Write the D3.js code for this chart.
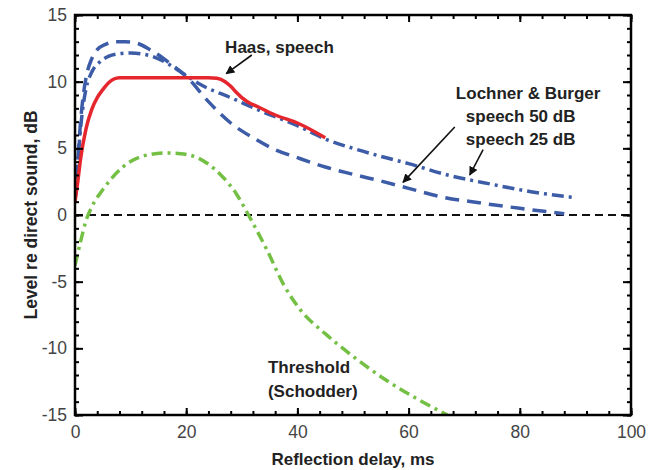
<!DOCTYPE html>
<html><head><meta charset="utf-8">
<script src="https://cdn.jsdelivr.net/npm/d3@7"></script>
<style>
html,body{margin:0;padding:0;background:#fff;overflow:hidden}
svg{display:block}
</style></head>
<body>
<svg id="chart" width="654" height="470"></svg>
<script>
// ---- data ----
const xTicks = [0, 20, 40, 60, 80, 100];
const yTicks = [-15, -10, -5, 0, 5, 10, 15];

// Haas, speech (red solid)
const haasX = [0, 0.5, 1, 2, 3, 4, 5, 6, 7, 8, 24, 25.5, 27, 28, 29, 30, 31, 33, 36, 40, 45];
const haasY = [1.0, 2.5, 4.2, 6.5, 7.9, 8.8, 9.4, 9.9, 10.2, 10.3, 10.3, 10.25, 10.0, 9.65, 9.2, 8.8, 8.5, 8.1, 7.5, 6.9, 5.8];

// Lochner & Burger, speech 50 dB (blue dashed)
const lb50X = [0, 0.5, 1, 1.5, 2.2, 3, 4, 5.5, 7, 9, 11, 13.5, 17, 20, 24, 28, 32, 36, 40, 45, 50, 55, 60, 66, 73, 80, 88];
const lb50Y = [1.0, 4.0, 7.0, 9.0, 10.7, 11.7, 12.4, 12.8, 13.0, 13.0, 12.9, 12.4, 11.4, 10.4, 8.5, 6.9, 5.8, 4.9, 4.3, 3.6, 3.05, 2.55, 2.0, 1.35, 0.9, 0.5, 0.1];

// Lochner & Burger, speech 25 dB (blue dash-dot)
const lb25X = [0, 0.5, 1, 1.5, 2, 3, 4.5, 6, 8, 10, 13, 16.5, 19.5, 22.5, 28, 34, 40, 45, 50, 55, 60, 67, 75, 82, 90];
const lb25Y = [1.0, 4.0, 6.5, 8.3, 9.5, 10.7, 11.5, 11.9, 12.1, 12.15, 12.0, 11.4, 10.6, 9.8, 8.8, 7.7, 6.7, 5.7, 5.0, 4.4, 3.85, 3.0, 2.3, 1.75, 1.3];

// Threshold (Schodder) (green dash-dot)
const thrX = [0, 1, 2, 3, 5, 8.6, 13, 16.5, 19, 22, 26, 29, 31.2, 34.5, 37.5, 40.5, 45, 50, 56, 62, 67];
const thrY = [-3.8, -2.0, -0.4, 0.6, 1.9, 3.6, 4.5, 4.65, 4.6, 4.3, 3.1, 1.6, 0, -2.6, -5.2, -7.1, -8.9, -10.6, -12.4, -13.9, -15];

// ---- layout ----
const svg = d3.select("#chart");
const L = 75, R = 631, T = 15, B = 415;
const x = d3.scaleLinear().domain([0, 100]).range([L, R]);
const y = d3.scaleLinear().domain([-15, 15]).range([B, T]);

const font = "'Liberation Sans', Arial, Helvetica, sans-serif";
const fmt = d => String(d);

const zip = (xs, ys) => xs.map((v, i) => [v, ys[i]]);
const line = d3.line().x(d => x(d[0])).y(d => y(d[1])).curve(d3.curveMonotoneX);

const plot = svg.append("g");
plot.append("clipPath").attr("id", "clip").append("rect")
  .attr("x", L).attr("y", T).attr("width", R - L).attr("height", B - T);
const g = plot.append("g").attr("clip-path", "url(#clip)");

// zero reference line
g.append("path").datum([[0, 0], [100, 0]])
  .attr("d", d3.line().x(d => x(d[0])).y(d => y(d[1])))
  .attr("fill", "none").attr("stroke", "#111").attr("stroke-width", 2)
  .attr("stroke-dasharray", "8,5");

// threshold
g.append("path").datum(zip(thrX, thrY)).attr("d", line)
  .attr("fill", "none").attr("stroke", "#74c044").attr("stroke-width", 3.5)
  .attr("stroke-dasharray", "11,5,3,5");

// LB 50 dB dashed
g.append("path").datum(zip(lb50X, lb50Y)).attr("d", line)
  .attr("fill", "none").attr("stroke", "#3d5ca8").attr("stroke-width", 3.5)
  .attr("stroke-dasharray", "14,8");

// LB 25 dB dash-dot
g.append("path").datum(zip(lb25X, lb25Y)).attr("d", line)
  .attr("fill", "none").attr("stroke", "#3d5ca8").attr("stroke-width", 3.5)
  .attr("stroke-dasharray", "12,5,3,5");

// Haas red
g.append("path").datum(zip(haasX, haasY)).attr("d", line)
  .attr("fill", "none").attr("stroke", "#e5262d").attr("stroke-width", 3.5);

// ---- axes with inward ticks on all sides ----
const xMinor = d3.range(0, 101, 4);
const yMinor = d3.range(-15, 16, 1);
function styleAxis(sel) {
  sel.select(".domain").remove();
  sel.selectAll(".tick line").attr("stroke", "#000").attr("stroke-width", 2);
}
svg.append("g").attr("transform", `translate(0,${B})`)
  .call(d3.axisBottom(x).tickValues(xMinor).tickSize(-4).tickFormat("")).call(styleAxis);
svg.append("g").attr("transform", `translate(0,${B})`)
  .call(d3.axisBottom(x).tickValues(xTicks).tickSize(-7).tickPadding(11).tickFormat(fmt))
  .call(styleAxis)
  .call(a => a.selectAll("text").attr("font-family", font).attr("font-size", 17.5).attr("fill", "#444"));
svg.append("g").attr("transform", `translate(0,${T})`)
  .call(d3.axisTop(x).tickValues(xMinor).tickSize(-4).tickFormat("")).call(styleAxis);
svg.append("g").attr("transform", `translate(0,${T})`)
  .call(d3.axisTop(x).tickValues(xTicks).tickSize(-7).tickFormat("")).call(styleAxis);

svg.append("g").attr("transform", `translate(${L},0)`)
  .call(d3.axisLeft(y).tickValues(yMinor).tickSize(-4).tickFormat("")).call(styleAxis);
svg.append("g").attr("transform", `translate(${L},0)`)
  .call(d3.axisLeft(y).tickValues(yTicks).tickSize(-8).tickPadding(8).tickFormat(fmt))
  .call(styleAxis)
  .call(a => a.selectAll("text").attr("font-family", font).attr("font-size", 17.5).attr("fill", "#444"));
svg.append("g").attr("transform", `translate(${R},0)`)
  .call(d3.axisRight(y).tickValues(yMinor).tickSize(-4).tickFormat("")).call(styleAxis);
svg.append("g").attr("transform", `translate(${R},0)`)
  .call(d3.axisRight(y).tickValues(yTicks).tickSize(-8).tickFormat("")).call(styleAxis);

// frame
svg.append("rect").attr("x", L).attr("y", T).attr("width", R - L).attr("height", B - T)
  .attr("fill", "none").attr("stroke", "#000").attr("stroke-width", 2.5);

// axis titles
svg.append("text").attr("x", (L + R) / 2).attr("y", 465).attr("text-anchor", "middle")
  .attr("font-family", font).attr("font-weight", "bold").attr("font-size", 17).attr("fill", "#222")
  .text("Reflection delay, ms");
svg.append("text").attr("transform", `translate(37,${(T + B) / 2}) rotate(-90)`).attr("text-anchor", "middle")
  .attr("font-family", font).attr("font-weight", "bold").attr("font-size", 17.5).attr("fill", "#222")
  .text("Level re direct sound, dB");

// ---- annotations (positioned in data units) ----
const defs = svg.append("defs");
defs.append("marker").attr("id", "ah").attr("viewBox", "0 0 10 10").attr("refX", 9).attr("refY", 5)
  .attr("markerWidth", 9).attr("markerHeight", 9).attr("markerUnits", "userSpaceOnUse").attr("orient", "auto")
  .append("path").attr("d", "M0,0 L10,5 L0,10 Z").attr("fill", "#111");

function label(lines, xd, yd, dy) {
  const t = svg.append("text").attr("font-family", font).attr("font-weight", "bold")
    .attr("font-size", 17).attr("fill", "#222");
  lines.forEach((s, i) => t.append("tspan").attr("x", x(xd[i] !== undefined ? xd[i] : xd[0]))
    .attr("y", y(yd) + i * dy).text(s));
}
function arrow(x1, y1, x2, y2) {
  svg.append("line").attr("x1", x(x1)).attr("y1", y(y1)).attr("x2", x(x2)).attr("y2", y(y2))
    .attr("stroke", "#111").attr("stroke-width", 1.6).attr("marker-end", "url(#ah)");
}

label(["Haas, speech"], [27.0], 12.15, 0);
arrow(31.8, 12.0, 27.2, 10.6);

label(["Lochner & Burger", "speech 50 dB", "speech 25 dB"], [68.5, 70.3, 70.3], 8.7, 23);
arrow(68.3, 6.6, 59.0, 2.45);
arrow(73.4, 4.9, 71.0, 3.0);

label(["Threshold", "(Schodder)"], [34.7, 34.7], -11.85, 24);
</script>
</body></html>
